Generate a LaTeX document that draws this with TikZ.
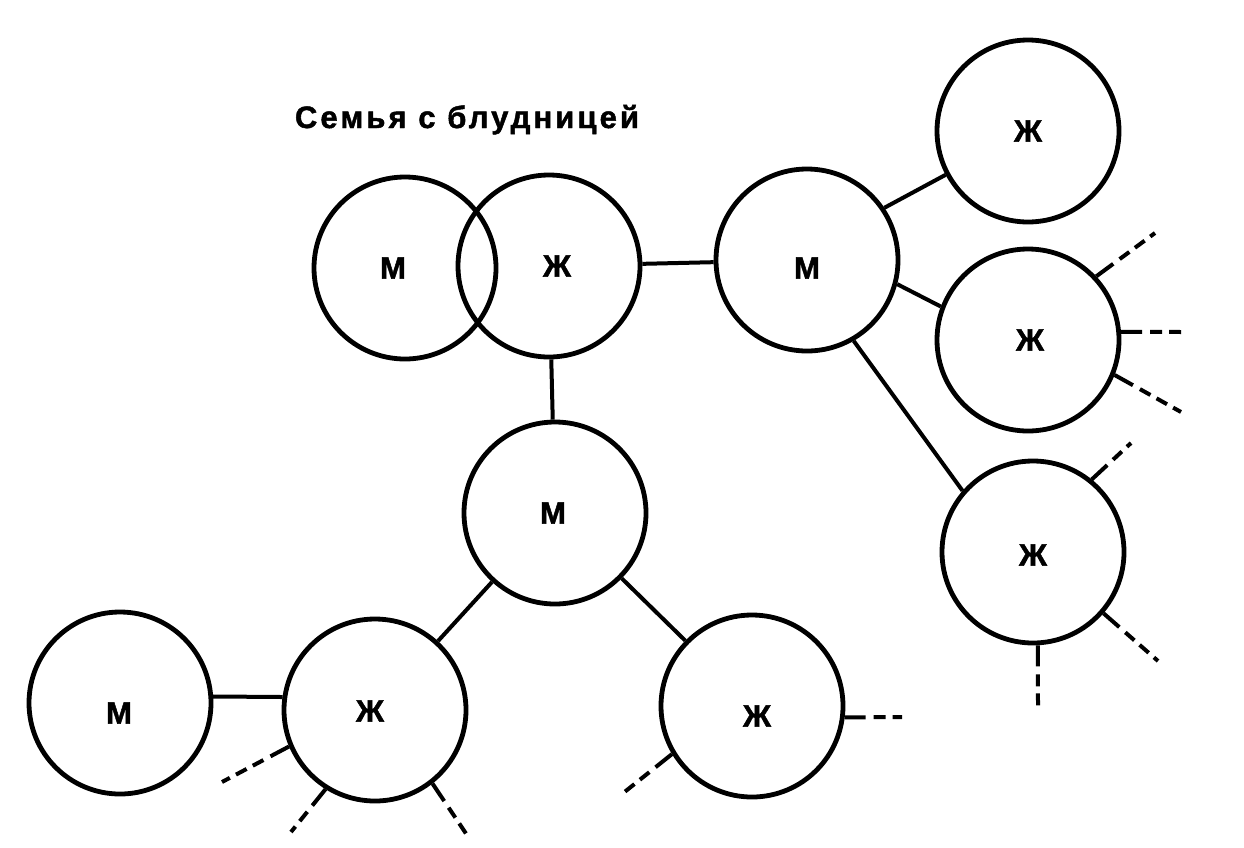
\documentclass[tikz,border=0pt]{standalone}
\usepackage{fontspec}
\setmainfont{Liberation Sans}
\newfontfamily\heavyfont{Liberation Sans Bold}[FakeBold=1.5]
\newfontfamily\titlefont{Liberation Sans Bold}[FakeBold=1.5,LetterSpace=10]
\begin{document}
\begin{tikzpicture}[x=1pt,y=-1pt,
  person/.style={circle,draw,line width=4.8pt,minimum size=182pt,inner sep=0pt},
  lbl/.style={font=\heavyfont\fontsize{31}{31}\selectfont,inner sep=0pt},
  link/.style={line width=4pt},
  open/.style={line width=4pt,dash pattern=on 21pt off 8pt on 12pt off 7pt on 12pt off 7pt on 12pt off 7pt on 12pt off 7pt}]
\useasboundingbox[fill=white] (0,0) rectangle (1244,847);
\node[font=\titlefont\fontsize{31}{31}\selectfont,anchor=base,inner sep=0pt] (title) at (467,128) {Семья с блудницей};
\node[person,label={[lbl,xshift=-12pt]center:М}] (m1) at (405,268) {};
\node[person,label={[lbl,xshift=8pt]center:Ж}] (zh1) at (549,266) {};
\node[person,label={[lbl,yshift=-8pt]center:М}] (m2) at (807,260) {};
\node[person,label={[lbl]center:Ж}] (zhtr) at (1028,131) {};
\node[person,label={[lbl,xshift=2pt]center:Ж}] (zhmr) at (1028,340) {};
\node[person,label={[lbl,yshift=-3pt]center:Ж}] (zhbr) at (1033,552) {};
\node[person,label={[lbl,xshift=-2pt]center:М}] (mc) at (555,513) {};
\node[person,label={[lbl,xshift=-1pt,yshift=-10pt]center:М}] (mbl) at (120,703) {};
\node[person,label={[lbl,xshift=-5pt,yshift=-1pt]center:Ж}] (zhb) at (375,710) {};
\node[person,label={[lbl,xshift=5pt,yshift=-10pt]center:Ж}] (zhbb) at (752,706) {};
% connectors
\draw[link] (zh1) -- (m2);
\draw[link] (m2.34) -- (zhtr.208);
\draw[link] (m2.-15) -- (zhmr.159);
\draw[link] (m2.-60) -- (zhbr.139);
\draw[link] (zh1) -- (mc);
\draw[link] (mc) -- (zhb);
\draw[link] (mc) -- (zhbb);
\draw[link] (mbl.4) -- (zhb.172);
% open ends
\coordinate (e1) at (1155,233);
\coordinate (e2) at (1184,332);
\coordinate (e3) at (1181,412);
\coordinate (e4) at (1131,443);
\coordinate (e5) at (1158,661);
\coordinate (e6) at (1038,709);
\coordinate (e7) at (902,717);
\coordinate (e8) at (622,794);
\coordinate (e9) at (222,782);
\coordinate (e10) at (291,832);
\coordinate (e11) at (467,835);
\draw[open] (zhmr.43) -- (e1);
\draw[open] (zhmr.5) -- (e2);
\draw[open] (zhmr.-22) -- (e3);
\draw[open] (zhbr.51) -- (e4);
\draw[open] (zhbr.-41) -- (e5);
\draw[open] (zhbr.-87) -- (e6);
\draw[open] (zhbb.-7) -- (e7);
\draw[open] (zhbb.211) -- (e8);
\draw[open] (zhb.203) -- (e9);
\draw[open] (zhb.238) -- (e10);
\draw[open] (zhb.-52) -- (e11);
\end{tikzpicture}
\end{document}
